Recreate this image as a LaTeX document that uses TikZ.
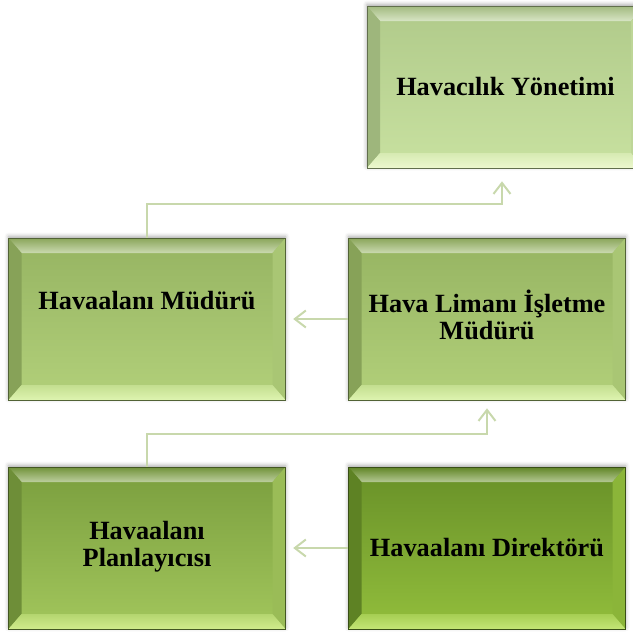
\documentclass[tikz,border=0pt]{standalone}
\usepackage{fontspec}
\setmainfont{Liberation Serif}
\usetikzlibrary{arrows.meta,shadows.blur}
\definecolor{aT}{RGB}{176,202,138}
\definecolor{aB}{RGB}{200,225,160}
\definecolor{aL}{RGB}{236,248,206}
\definecolor{mT}{RGB}{150,180,98}
\definecolor{mB}{RGB}{178,208,122}
\definecolor{mL}{RGB}{222,244,176}
\definecolor{pT}{RGB}{122,158,62}
\definecolor{pB}{RGB}{162,198,92}
\definecolor{pL}{RGB}{208,236,140}
\definecolor{dT}{RGB}{104,144,40}
\definecolor{dB}{RGB}{146,190,60}
\definecolor{dL}{RGB}{196,230,118}
\definecolor{linec}{RGB}{200,216,172}
\tikzset{
  bevbox/.style n args={3}{
    minimum width=277pt, minimum height=162pt, inner sep=0pt, align=center,
    font=\fontsize{26.3}{27}\selectfont\bfseries, text=black,
    draw=#1!55!black, line width=0.6pt,
    top color=#1, bottom color=#2,
    blur shadow={shadow xshift=0pt, shadow yshift=1.5pt, shadow blur radius=4pt, shadow opacity=35},
    path picture={
      \coordinate (pnw) at (path picture bounding box.north west);
      \coordinate (pne) at (path picture bounding box.north east);
      \coordinate (psw) at (path picture bounding box.south west);
      \coordinate (pse) at (path picture bounding box.south east);
      \shade[top color=#1!92!black, bottom color=#1!50!white]
        (pnw) -- (pne) -- ([shift={(-13pt,-15pt)}]pne) -- ([shift={(13pt,-15pt)}]pnw) -- cycle;
      \fill[#1!90!black]
        (pnw) -- ([shift={(13pt,-15pt)}]pnw) -- ([shift={(13pt,15pt)}]psw) -- (psw) -- cycle;
      \fill[#2!95!black]
        (pne) -- ([shift={(-13pt,-15pt)}]pne) -- ([shift={(-13pt,15pt)}]pse) -- (pse) -- cycle;
      \shade[top color=#2!60!#3, bottom color=#3]
        (psw) -- ([shift={(13pt,15pt)}]psw) -- ([shift={(-13pt,15pt)}]pse) -- (pse) -- cycle;
    }
  },
  conn/.style={draw=linec, line width=2pt},
  arr/.style={conn, -{Straight Barb[length=11pt,width=17pt,line width=2pt]}}
}
\begin{document}
\begin{tikzpicture}[x=1pt,y=-1pt]
\useasboundingbox (0,0) rectangle (633,632);
\node[bevbox={aT}{aB}{aL}] (top) at (505.5,87) {Havacılık Yönetimi};
\node[bevbox={mT}{mB}{mL}] (midL) at (147,319) {\raisebox{38pt}{Havaalanı Müdürü}};
\node[bevbox={mT}{mB}{mL}] (midR) at (487,319) {\raisebox{3pt}{\begin{tabular}{@{}c@{}}Hava Limanı İşletme\\ Müdürü\end{tabular}}};
\node[bevbox={pT}{pB}{pL}] (botL) at (147,548) {\begin{tabular}{@{}c@{}}Havaalanı\\ Planlayıcısı\end{tabular}};
\node[bevbox={dT}{dB}{dL}] (botR) at (487,548) {Havaalanı Direktörü};
\coordinate (t1) at ([shift={(-3.5pt,-13pt)}]top.south);
\coordinate (t2) at ([yshift=-8pt]midR.south);
\coordinate (t3) at ([xshift=-55pt]midR.west);
\coordinate (t4) at ([xshift=-55pt]botR.west);
\draw[arr] (midL.north) -- ++(0,-34) -| (t1);
\draw[arr] (botL.north) -- ++(0,-33) -| (t2);
\draw[arr] (midR.west) -- (t3);
\draw[arr] (botR.west) -- (t4);
\end{tikzpicture}
\end{document}
